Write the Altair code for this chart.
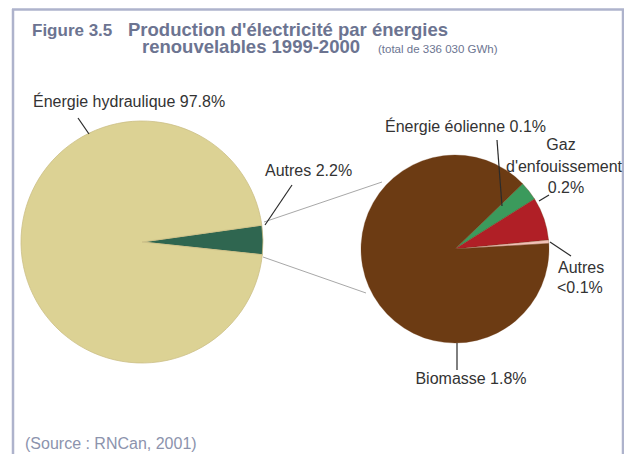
import math
import altair as alt
import pandas as pd

# ---------------- data ----------------
main_cats = ["Autres", "Énergie hydraulique"]
main_share = [3.9, 96.1]          # slice shares as drawn
main_colors = ["#2f6650", "#dcd294"]

sub_cats = ["Énergie éolienne", "Gaz d'enfouissement", "Autres (détail)", "Biomasse"]
sub_share = [3.3, 7.4, 0.6, 88.7]  # slice shares as drawn
sub_colors = ["#3b9a5c", "#b01f26", "#f2c2b8", "#6c3b13"]

title_main = ["Figure 3.5", "Production d'électricité par énergies", "renouvelables 1999-2000"]
title_small = ["(total de 336 030 GWh)"]
label_texts = ["Énergie hydraulique 97.8%", "Autres 2.2%", "Énergie éolienne 0.1%",
               "Autres", "<0.1%"]
label_center_texts = ["Gaz", "d'enfouissement", "0.2%", "Biomasse 1.8%"]
source_text = ["(Source : RNCan, 2001)"]

# ---------------- layout (page pixels) ----------------
W, H = 616, 446
OFF = 8
left_pie = dict(cx=142, cy=242, r=121, start=82)
right_pie = dict(cx=455, cy=249, r=94, start=46)

title_main_x = [32, 128, 142]
title_main_y = [36, 36, 53]
title_main_size = [17, 18.5, 18.5]
title_small_x = [378]
title_small_y = [53]

label_x = [33, 265, 385, 558, 557]
label_y = [102, 171, 127, 268, 288]
label_center_x = [561, 564, 566, 471]
label_center_y = [145, 167, 188, 379]
source_x = [25]
source_y = [444]

leader_x = [78, 292, 497, 539, 550, 457]
leader_y = [118, 185, 140, 201, 242, 343]
leader_x2 = [89, 265, 502, 549, 571, 457]
leader_y2 = [134, 225, 206, 195, 256, 370]

conn_x = [264, 263]
conn_y = [222, 257]
conn_x2 = [382, 366]
conn_y2 = [182, 293]

# frame: top, left, right borders
frame_x = [12, 13, 623]
frame_y = [9.5, 9, 9]
frame_x2 = [624, 13, 623]
frame_y2 = [9.5, 470, 470]

FONT = "Liberation Sans"
xs = alt.Scale(domain=[OFF, OFF + W], nice=False, zero=False)
ys = alt.Scale(domain=[OFF, OFF + H], nice=False, zero=False, reverse=True)


def X(f):
    return alt.X(f, type="quantitative", scale=xs, axis=None)


def Y(f):
    return alt.Y(f, type="quantitative", scale=ys, axis=None)


def pie(cats, shares, colors, p, stroke, sw):
    df = pd.DataFrame({"cat": cats, "share": shares, "ord": list(range(len(cats)))})
    s = math.radians(p["start"])
    return alt.Chart(df).mark_arc(stroke=stroke, strokeWidth=sw).encode(
        theta=alt.Theta("share:Q", stack=True,
                        scale=alt.Scale(domain=[0, 100], range=[s, s + 2 * math.pi], nice=False)),
        color=alt.Color("cat:N", scale=alt.Scale(domain=cats, range=colors), legend=None),
        order=alt.Order("ord:Q"),
        x=alt.value(p["cx"] - OFF),
        y=alt.value(p["cy"] - OFF),
        radius=alt.value(p["r"]),
    )


def rules(xa, ya, xb, yb, color, width):
    df = pd.DataFrame({"x": xa, "y": ya, "x2": xb, "y2": yb})
    return alt.Chart(df).mark_rule(color=color, strokeWidth=width).encode(
        x=X("x"), y=Y("y"), x2="x2:Q", y2="y2:Q")


def texts(t, xa, ya, **kw):
    df = pd.DataFrame({"t": t, "x": xa, "y": ya})
    return alt.Chart(df).mark_text(font=FONT, **kw).encode(x=X("x"), y=Y("y"), text="t:N")


title_df = pd.DataFrame({"t": title_main, "x": title_main_x, "y": title_main_y, "s": title_main_size})
title_layer = alt.Chart(title_df).mark_text(font=FONT, fontWeight="bold", color="#6c7491",
                                            align="left", baseline="alphabetic").encode(
    x=X("x"), y=Y("y"), text="t:N", size=alt.Size("s:Q", scale=None, legend=None))

layers = [
    rules(frame_x, frame_y, frame_x2, frame_y2, "#aeb3cc", 2.5),
    rules(conn_x, conn_y, conn_x2, conn_y2, "#a8a8a8", 1),
    pie(main_cats, main_share, main_colors, left_pie, "#cbbf86", 0.8),
    pie(sub_cats, sub_share, sub_colors, right_pie, "#6c3b13", 0.3),
    rules(leader_x, leader_y, leader_x2, leader_y2, "#2b2b2b", 1.2),
    title_layer,
    texts(title_small, title_small_x, title_small_y, fontSize=11.5, color="#6c7491",
          align="left", baseline="alphabetic"),
    texts(label_texts, label_x, label_y, fontSize=16, color="#333333", align="left", baseline="middle"),
    texts(label_center_texts, label_center_x, label_center_y, fontSize=16, color="#333333",
          align="center", baseline="middle"),
    texts(source_text, source_x, source_y, fontSize=16, color="#8c93ad", align="left", baseline="middle"),
]

chart = alt.layer(*layers).properties(
    width=W, height=H, padding=0, background="white",
    autosize=alt.AutoSizeParams(type="none"),
).resolve_scale(color="independent", theta="independent").configure_view(strokeWidth=0)

chart.save("out.html", embed_options={"renderer": "svg", "actions": False})
